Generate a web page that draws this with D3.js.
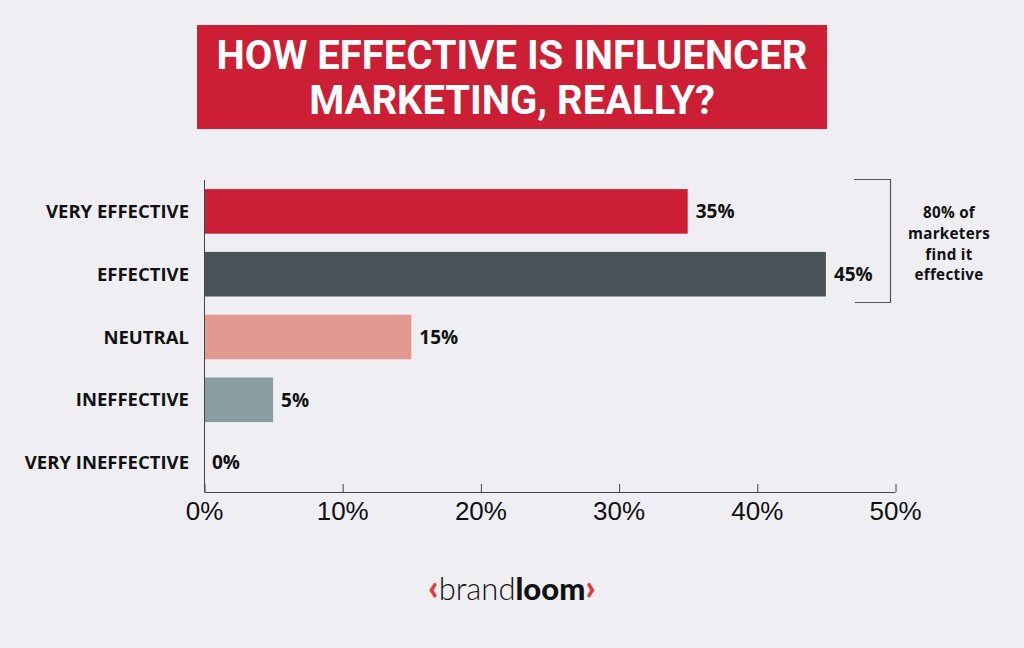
<meta charset="utf-8">
<head>
<script src="https://d3js.org/d3.v7.min.js"></script>
<style>
  body { margin: 0; background: #efeff3; }
</style>
</head>
<body>
<div id="container"></div>
<script>

var categories = ["VERY EFFECTIVE", "EFFECTIVE", "NEUTRAL", "INEFFECTIVE", "VERY INEFFECTIVE"];
var values = [35, 45, 15, 5, 0];
var colors = ["#cc1f35", "#4a5158", "#e2998f", "#889da1", "#889da1"];
var xTicks = [0, 10, 20, 30, 40, 50];
var titleLines = ["HOW EFFECTIVE IS INFLUENCER", "MARKETING, REALLY?"];
var noteLines = ["80% of", "marketers", "find it", "effective"];

var width = 1024, height = 648;
var titleFont = "Roboto, 'Open Sans', sans-serif";
var labelFont = "'Open Sans', Roboto, sans-serif";

var svg = d3.select('#container')
  .append('svg')
  .attr('width', width)
  .attr('height', height);

svg.append('rect').attr('width', width).attr('height', height).attr('fill', '#efeff3');

// title box
svg.append('rect')
  .attr('x', 197).attr('y', 25)
  .attr('width', 630).attr('height', 104)
  .attr('fill', '#cc1f35');

svg.selectAll('.title')
  .data(titleLines)
  .enter().append('text')
  .attr('x', 512)
  .attr('y', function(d, i) { return 69 + i * 45; })
  .attr('text-anchor', 'middle')
  .attr('fill', '#fff')
  .style('font-family', titleFont)
  .style('font-weight', 700)
  .style('font-size', '40px')
  .text(function(d) { return d; });

var x = d3.scaleLinear().domain([0, 50]).range([204, 895]);
var y = d3.scaleBand().domain(categories).range([180, 494])
  .paddingInner(0.29).paddingOuter(0.145);

// bars
svg.selectAll('.bar')
  .data(values)
  .enter().append('rect')
  .attr('x', x(0))
  .attr('y', function(d, i) { return y(categories[i]); })
  .attr('width', function(d) { return x(d) - x(0); })
  .attr('height', y.bandwidth())
  .attr('fill', function(d, i) { return colors[i]; });

// value labels
svg.selectAll('.val')
  .data(values)
  .enter().append('text')
  .attr('x', function(d) { return x(d) + 8; })
  .attr('y', function(d, i) { return y(categories[i]) + y.bandwidth() / 2; })
  .attr('dy', '0.36em')
  .style('font-family', labelFont)
  .style('font-weight', 700)
  .style('font-size', '19px')
  .attr('fill', '#111')
  .text(function(d) { return d + '%'; });

// category labels
svg.selectAll('.cat')
  .data(categories)
  .enter().append('text')
  .attr('x', 189)
  .attr('y', function(d) { return y(d) + y.bandwidth() / 2; })
  .attr('dy', '0.36em')
  .attr('text-anchor', 'end')
  .style('font-family', labelFont)
  .style('font-weight', 700)
  .style('font-size', '18.5px')
  .attr('fill', '#111')
  .text(function(d) { return d; });

// y axis line
svg.append('line')
  .attr('x1', 204.5).attr('x2', 204.5)
  .attr('y1', 180).attr('y2', 492)
  .attr('stroke', '#444').attr('stroke-width', 1);

// x axis
var xAxis = d3.axisBottom(x)
  .tickValues(xTicks)
  .tickSize(0)
  .tickFormat(function(d) { return d + '%'; });

var gx = svg.append('g')
  .attr('transform', 'translate(0,492)')
  .call(xAxis);
gx.select('.domain').attr('stroke', '#444').attr('d', 'M204.5,0.5H895.5');
gx.selectAll('.tick line').remove();
gx.selectAll('.tick').append('line')
  .attr('x1', 0.5).attr('x2', 0.5)
  .attr('y1', 0).attr('y2', -8)
  .attr('stroke', '#444');
gx.selectAll('.tick text')
  .attr('y', 10)
  .attr('dy', '0.71em')
  .attr('fill', '#111')
  .style('font-family', "'Liberation Sans', Arial, sans-serif")
  .style('font-size', '26px');

// bracket
svg.append('path')
  .attr('d', 'M854,179.5H890.5V302.5H855')
  .attr('fill', 'none')
  .attr('stroke', '#555')
  .attr('stroke-width', 1.2);

svg.selectAll('.note')
  .data(noteLines)
  .enter().append('text')
  .attr('x', 949)
  .attr('y', function(d, i) { return 218 + i * 20.8; })
  .attr('text-anchor', 'middle')
  .style('font-family', labelFont)
  .style('font-weight', 700)
  .style('font-size', '15.2px')
  .style('letter-spacing', '0.3px')
  .attr('fill', '#111')
  .text(function(d) { return d; });

// logo
var logo = svg.append('text')
  .attr('x', 512).attr('y', 600)
  .attr('text-anchor', 'middle')
  .style('font-family', "Lato, 'Open Sans', sans-serif")
  .style('font-size', '31px')
  .attr('fill', '#111');
logo.append('tspan').attr('fill', '#e0393c').style('font-weight', 900).style('font-size', '36px').text('‹');
logo.append('tspan').style('font-weight', 300).text('brand');
logo.append('tspan').style('font-weight', 900).text('loom');
logo.append('tspan').attr('fill', '#e0393c').style('font-weight', 900).style('font-size', '36px').text('›');

</script>
</body>
